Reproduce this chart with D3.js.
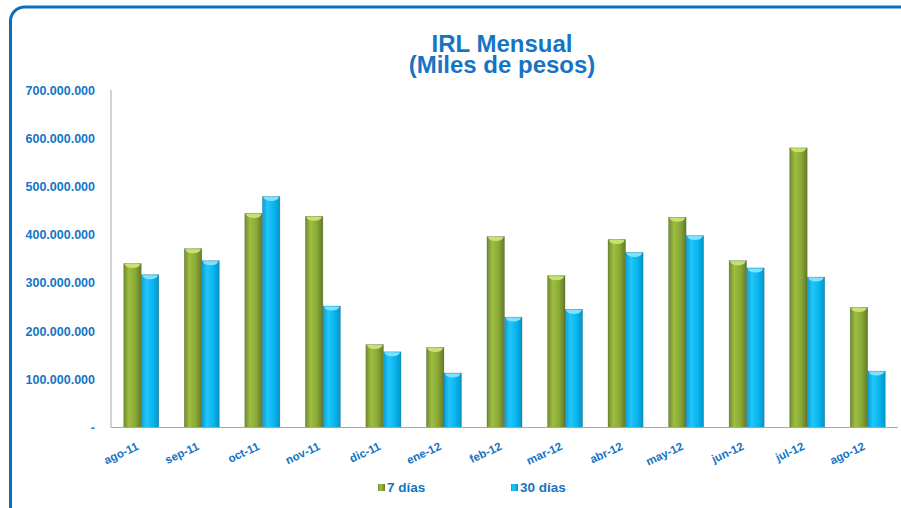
<!DOCTYPE html>
<html>
<head>
<meta charset="utf-8">
<script src="https://cdn.jsdelivr.net/npm/d3@7"></script>
<style>
  body { margin: 0; background: #fff; }
  svg { display: block; font-family: "Liberation Sans", Arial, sans-serif; }
</style>
</head>
<body>
<script>
var months = ['ago-11', 'sep-11', 'oct-11', 'nov-11', 'dic-11', 'ene-12', 'feb-12',
              'mar-12', 'abr-12', 'may-12', 'jun-12', 'jul-12', 'ago-12'];
var dias7 = [340, 371, 444, 438, 172, 166, 396, 315, 390, 436, 346, 580, 249];
var dias30 = [317, 346, 479, 252, 157, 113, 229, 245, 363, 398, 331, 312, 117];
var seriesNames = ['7 días', '30 días'];
var yTicks = [0, 100, 200, 300, 400, 500, 600, 700];
var titleLines = ['IRL Mensual', '(Miles de pesos)'];

var w = 901;
var h = 508;
var blue = '#1574C4';

var svg = d3.select('body')
            .append('svg')
            .attr('width', w)
            .attr('height', h);

// frame
svg.append('rect')
   .attr('x', 10.5)
   .attr('y', 7)
   .attr('width', 1000)
   .attr('height', 600)
   .attr('rx', 14)
   .attr('fill', 'none')
   .attr('stroke', '#0B6FC1')
   .attr('stroke-width', 3);

var defs = svg.append('defs');
var grads = [
    { id: 'gGreen', stops: ['#6F8A2E', '#9DBE40', '#8AAA37', '#64792A'] },
    { id: 'gBlue', stops: ['#0A9FD4', '#22C6FA', '#08B6EE', '#0394C8'] }
];
grads.forEach(function(g) {
    var lg = defs.append('linearGradient')
                 .attr('id', g.id)
                 .attr('x1', '0%').attr('x2', '100%')
                 .attr('y1', '0%').attr('y2', '0%');
    [0, 0.3, 0.65, 1].forEach(function(o, i) {
        lg.append('stop').attr('offset', o).attr('stop-color', g.stops[i]);
    });
});
var fills = ['url(#gGreen)', 'url(#gBlue)'];
var caps = ['#C8E270', '#7DE2FF'];

var x = d3.scaleBand()
          .domain(months)
          .range([111, 898])
          .paddingInner(0.42)
          .paddingOuter(0.21);

var x1 = d3.scaleBand()
           .domain(d3.range(2))
           .range([0, x.bandwidth()]);

var y = d3.scaleLinear()
          .domain([0, 700])
          .range([427.5, 90]);

// title, one text with two lines
var title = svg.append('text')
               .attr('text-anchor', 'middle')
               .attr('font-size', '24px')
               .attr('font-weight', 'bold')
               .attr('fill', blue);
title.selectAll('tspan')
     .data(titleLines)
     .enter()
     .append('tspan')
     .attr('x', 502)
     .attr('y', function(d, i) { return 52 + i * 21; })
     .text(function(d) { return d; });

// y labels
svg.selectAll('.ylab')
   .data(yTicks)
   .enter()
   .append('text')
   .attr('class', 'ylab')
   .attr('x', 95)
   .attr('y', function(d) { return y(d) + 4.5; })
   .attr('text-anchor', 'end')
   .attr('font-size', '12.5px')
   .attr('font-weight', 'bold')
   .attr('fill', blue)
   .text(function(d) {
       return d === 0 ? '-' : d3.format(',')(d * 1000000).replace(/,/g, '.');
   });

// bars
var groups = svg.selectAll('.grp')
                .data(months)
                .enter()
                .append('g')
                .attr('class', 'grp')
                .attr('transform', function(d) { return 'translate(' + x(d) + ',0)'; });

groups.each(function(m, i) {
    var g = d3.select(this);
    [dias7[i], dias30[i]].forEach(function(v, s) {
        var bx = x1(s);
        var bw = x1.bandwidth();
        var top = y(v);
        g.append('rect')
         .attr('x', bx)
         .attr('y', top)
         .attr('width', bw)
         .attr('height', y(0) - top)
         .attr('fill', fills[s])
         .attr('stroke', 'rgba(60,70,60,0.35)')
         .attr('stroke-width', 0.6);
        g.append('path')
         .attr('d', 'M' + (bx + 1) + ',' + (top + 0.5) +
                    'L' + (bx + bw - 1) + ',' + (top + 0.5) +
                    'Q' + (bx + bw - 2) + ',' + (top + 4.5) + ' ' + (bx + bw / 2) + ',' + (top + 4.5) +
                    'Q' + (bx + 2) + ',' + (top + 4.5) + ' ' + (bx + 1) + ',' + (top + 0.5) + 'Z')
         .attr('fill', caps[s]);
    });
});

// axes lines
svg.append('line')
   .attr('x1', 111).attr('x2', 111)
   .attr('y1', 90).attr('y2', y(0))
   .attr('stroke', '#A6A6A6').attr('stroke-width', 1);
svg.append('line')
   .attr('x1', 111).attr('x2', 898)
   .attr('y1', y(0)).attr('y2', y(0))
   .attr('stroke', '#A6A6A6').attr('stroke-width', 1);

// x labels
svg.selectAll('.xlab')
   .data(months)
   .enter()
   .append('text')
   .attr('class', 'xlab')
   .attr('text-anchor', 'end')
   .attr('font-size', '11.5px')
   .attr('font-weight', 'bold')
   .attr('fill', blue)
   .attr('transform', function(d) {
       return 'translate(' + (x(d) + x.bandwidth() / 2 - 2) + ',449) rotate(-25)';
   })
   .text(function(d) { return d; });

// legend
var legX = [378, 511];
seriesNames.forEach(function(n, i) {
    svg.append('rect')
       .attr('x', legX[i]).attr('y', 484)
       .attr('width', 7).attr('height', 7)
       .attr('fill', fills[i]);
    svg.append('text')
       .attr('x', legX[i] + 9).attr('y', 491.5)
       .attr('font-size', '13.5px')
       .attr('font-weight', 'bold')
       .attr('fill', blue)
       .text(n);
});
</script>
</body>
</html>
